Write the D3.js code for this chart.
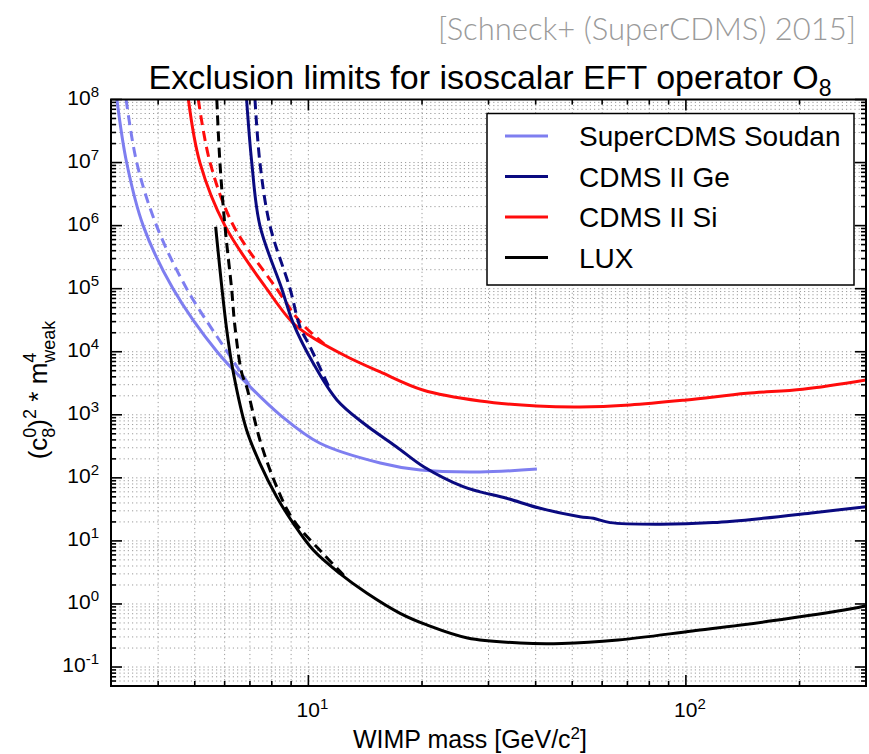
<!DOCTYPE html>
<html>
<head>
<meta charset="utf-8">
<script src="https://cdn.jsdelivr.net/npm/d3@7"></script>
<style>
  body { margin: 0; background: #fff; }
  svg { font-family: "Liberation Sans", Arial, Helvetica, sans-serif; }
</style>
</head>
<body>
<svg id="chart" width="869" height="754"></svg>
<script>
// legend order and colours
const seriesNames = ["SuperCDMS Soudan", "CDMS II Ge", "CDMS II Si", "LUX"];
const seriesColors = ["#7e7ef0", "#0a0a80", "#ff0c0c", "#000000"];

// [WIMP mass (GeV/c^2), (c8^0)^2 * m_weak^4]
const soudanSolid = [[3.11,1e8],[3.30,1e7],[3.65,1e6],[4.38,1e5],[5.73,1e4],[6.86,3160],[8.41,1000],[10.7,357],[15.5,172],[19.8,133],[28.5,124],[40.3,138]];
const soudanDashed = [[3.29,1e8],[3.51,1e7],[3.96,1e6],[4.76,1e5],[6.09,1e4],[7.0,2850]];
const geSolid = [[6.86,1e8],[7.08,1e7],[7.44,1e6],[8.50,1e5],[9.12,28200],[10.3,6560],[11.9,1720],[14.0,733],[17.1,312],[20.2,150],[25.7,72.4],[28.5,60],[33.5,47.4],[41.1,32.9],[52.4,24.2],[56.9,22.8],[63.0,19.5],[85.4,18.4],[118,19.5],[160,22.8],[218,28],[300,34.9]];
const geDashed = [[7.22,1e8],[7.44,1e7],[7.91,1e6],[8.94,1e5],[9.5,24900],[10.1,12000],[11.4,2560]];
const siSolid = [[4.81,1e8],[5.16,1e7],[6.01,1e6],[7.75,1e5],[9.10,28600],[10.3,16500],[12.7,8260],[15.5,4780],[20.1,2475],[28.5,1655],[40.3,1380],[52.4,1330],[71.1,1430],[100.5,1720],[145,2190],[204,2540],[300,3560]];
const siDashed = [[5.11,1e8],[5.49,1e7],[6.33,1e6],[8.24,1e5],[9.5,30000],[11,13300]];
const luxSolid = [[5.68,9.6e5],[6.07,23500],[6.33,4600],[6.86,574],[7.44,170],[8.24,50.2],[9.12,19],[10.3,7.18],[12.1,3.06],[14.3,1.48],[17.5,0.711],[20.6,0.465],[26.4,0.289],[36.4,0.24],[46.9,0.236],[66.1,0.268],[104,0.373],[165,0.53],[274,0.84],[300,0.94]];
const luxDashed = [[5.72,1e8],[5.83,1e7],[6.01,1e6],[6.26,1e5],[6.39,24900],[6.66,4600],[6.86,2790],[7.44,398],[8.24,72.4],[9.12,21.5],[10.9,6.43],[12.6,2.6]];

// tick labels
const xLabelPowers = [1, 2];
const yLabelPowers = [-1, 0, 1, 2, 3, 4, 5, 6, 7, 8];

const svg = d3.select("#chart");
const plotLeft = 111, plotRight = 866, plotTop = 99.5, plotBottom = 686;

const x = d3.scaleLog().domain([3, 300]).range([plotLeft, plotRight]);
const y = d3.scaleLog().domain([0.05, 1e8]).range([plotBottom, plotTop]);

// all 1..9 x 10^k values inside a domain
function logTicks(scale) {
  const [a, b] = scale.domain();
  let out = [];
  for (let k = Math.floor(Math.log10(a)); k <= Math.ceil(Math.log10(b)); k++) {
    for (let m = 1; m <= 9; m++) {
      const v = m * Math.pow(10, k);
      if (v >= a * 0.999 && v <= b * 1.001) out.push({ v: v, major: m == 1 });
    }
  }
  return out;
}
const xt = logTicks(x);
const yt = logTicks(y);

svg.append("rect").attr("width", 869).attr("height", 754).attr("fill", "#fff");

// dotted grid
const grid = svg.append("g")
  .attr("stroke", "#9c9c9c")
  .attr("stroke-width", 1)
  .attr("stroke-dasharray", "1.2,3");
grid.selectAll(".gx").data(xt.filter(d => d.v > 3.01 && d.v < 299)).join("line")
  .attr("x1", d => x(d.v)).attr("x2", d => x(d.v))
  .attr("y1", plotTop).attr("y2", plotBottom);
grid.selectAll(".gy").data(yt.filter(d => d.v < 0.99e8)).join("line")
  .attr("x1", plotLeft).attr("x2", plotRight)
  .attr("y1", d => y(d.v)).attr("y2", d => y(d.v));

// curves
svg.append("clipPath").attr("id", "plotclip")
  .append("rect").attr("x", plotLeft).attr("y", plotTop)
  .attr("width", plotRight - plotLeft).attr("height", plotBottom - plotTop);

const line = d3.line()
  .x(d => x(d[0]))
  .y(d => y(d[1]))
  .curve(d3.curveCatmullRom.alpha(0.5));

const curves = [
  { data: soudanDashed, color: seriesColors[0], dash: true },
  { data: soudanSolid, color: seriesColors[0], dash: false },
  { data: siDashed, color: seriesColors[2], dash: true },
  { data: siSolid, color: seriesColors[2], dash: false },
  { data: geDashed, color: seriesColors[1], dash: true },
  { data: geSolid, color: seriesColors[1], dash: false },
  { data: luxDashed, color: seriesColors[3], dash: true },
  { data: luxSolid, color: seriesColors[3], dash: false }
];

svg.append("g").attr("clip-path", "url(#plotclip)")
  .selectAll("path").data(curves).join("path")
    .attr("d", d => line(d.data))
    .attr("fill", "none")
    .attr("stroke", d => d.color)
    .attr("stroke-width", 3)
    .attr("stroke-linecap", "butt")
    .attr("stroke-dasharray", d => d.dash ? "10,6" : null);

// frame + inward ticks on all sides
const axes = svg.append("g").attr("stroke", "#000");
axes.append("rect")
  .attr("x", plotLeft).attr("y", plotTop)
  .attr("width", plotRight - plotLeft).attr("height", plotBottom - plotTop)
  .attr("fill", "none").attr("stroke-width", 2);

axes.selectAll(".tb").data(xt).join("line")
  .attr("x1", d => x(d.v)).attr("x2", d => x(d.v))
  .attr("y1", plotBottom).attr("y2", d => plotBottom - (d.major ? 11 : 5))
  .attr("stroke-width", 1.6);
axes.selectAll(".tt").data(xt).join("line")
  .attr("x1", d => x(d.v)).attr("x2", d => x(d.v))
  .attr("y1", plotTop).attr("y2", d => plotTop + (d.major ? 11 : 5))
  .attr("stroke-width", 1.6);
axes.selectAll(".tl").data(yt).join("line")
  .attr("y1", d => y(d.v)).attr("y2", d => y(d.v))
  .attr("x1", plotLeft).attr("x2", d => plotLeft + (d.major ? 11 : 5))
  .attr("stroke-width", 1.6);
axes.selectAll(".tr").data(yt).join("line")
  .attr("y1", d => y(d.v)).attr("y2", d => y(d.v))
  .attr("x1", plotRight).attr("x2", d => plotRight - (d.major ? 11 : 5))
  .attr("stroke-width", 1.6);

// tick labels
const ylab = svg.append("g").selectAll("text").data(yLabelPowers).join("text")
  .attr("x", 99)
  .attr("y", d => y(Math.pow(10, d)) + 5)
  .attr("text-anchor", "end")
  .attr("font-size", 21);
ylab.append("tspan").text("10");
ylab.append("tspan").attr("dy", -8).attr("font-size", 15).text(d => d < 0 ? "-" + (-d) : d);

const xlab = svg.append("g").selectAll("text").data(xLabelPowers).join("text")
  .attr("x", d => x(Math.pow(10, d)) + 4)
  .attr("y", 717)
  .attr("text-anchor", "middle")
  .attr("font-size", 21);
xlab.append("tspan").text("10");
xlab.append("tspan").attr("dy", -8).attr("font-size", 15).text(d => d);

// axis titles
const xTitle = svg.append("text")
  .attr("x", 470).attr("y", 748)
  .attr("text-anchor", "middle")
  .attr("font-size", 25)
  .text("WIMP mass [GeV/c");
xTitle.append("tspan").attr("dy", -9).attr("font-size", 17).text("2");
xTitle.append("tspan").attr("dy", 9).text("]");

const yTitle = svg.append("text")
  .attr("transform", "translate(47,390) rotate(-90)")
  .attr("text-anchor", "middle")
  .attr("font-size", 26);
yTitle.append("tspan").text("(c");
yTitle.append("tspan").attr("dy", -11).attr("font-size", 18).text("0");
yTitle.append("tspan").attr("dx", -10).attr("dy", 19).attr("font-size", 18).text("8");
yTitle.append("tspan").attr("dy", -8).text(")");
yTitle.append("tspan").attr("dy", -11).attr("font-size", 18).text("2");
yTitle.append("tspan").attr("dy", 11).text(" * m");
yTitle.append("tspan").attr("dy", -11).attr("font-size", 18).text("4");
yTitle.append("tspan").attr("dx", -10).attr("dy", 19).attr("font-size", 18).text("weak");

// title
const title = svg.append("text")
  .attr("x", 490).attr("y", 89)
  .attr("text-anchor", "middle")
  .attr("font-size", 34)
  .text("Exclusion limits for isoscalar EFT operator O");
title.append("tspan").attr("dy", 7).attr("font-size", 23).text("8");

// citation
svg.append("text")
  .attr("x", 856).attr("y", 40)
  .attr("text-anchor", "end")
  .attr("font-family", "Lato, 'Open Sans', sans-serif")
  .attr("font-weight", 300)
  .attr("font-size", 31)
  .attr("fill", "#9a9a9a")
  .text("[Schneck+ (SuperCDMS) 2015]");

// legend
const legend = svg.append("g");
legend.append("rect")
  .attr("x", 487).attr("y", 113.5)
  .attr("width", 367).attr("height", 171.5)
  .attr("fill", "#fff").attr("stroke", "#000").attr("stroke-width", 1.5);
const rows = legend.selectAll(".row").data(seriesNames).join("g")
  .attr("transform", (d, i) => "translate(0," + (136 + i * 40.5) + ")");
rows.append("line")
  .attr("x1", 505).attr("x2", 548)
  .attr("stroke", (d, i) => seriesColors[i])
  .attr("stroke-width", 3);
rows.append("text")
  .attr("x", 579).attr("y", 10)
  .attr("font-size", 28)
  .text(d => d);
</script>
</body>
</html>
